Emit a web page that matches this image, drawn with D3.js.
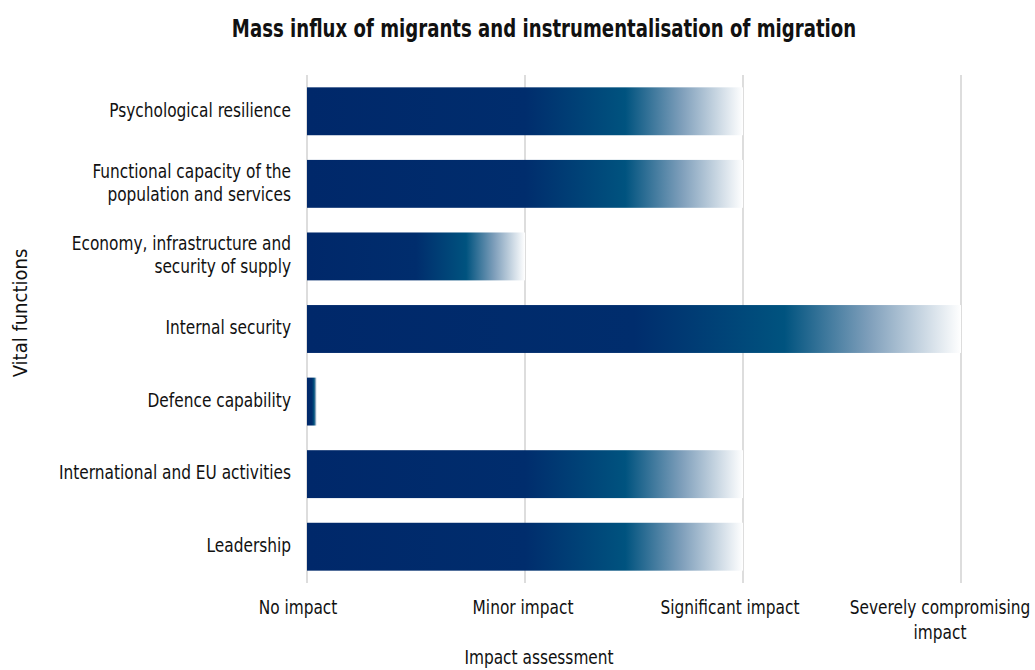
<!DOCTYPE html>
<html>
<head>
<meta charset="utf-8">
<script src="https://cdn.jsdelivr.net/npm/d3@7"></script>
<style>
  body { margin: 0; background: #fff; }
  text { font-family: "DejaVu Sans Condensed", "Liberation Sans Narrow", sans-serif; fill: #111; }
</style>
</head>
<body>
<script>
const W = 1035, H = 670;
const margin = {top: 75, right: 74, bottom: 87, left: 307};
const narrow = 0.9;   // squeeze text to look like a condensed face

// data
const categories = [
    ['Psychological resilience'],
    ['Functional capacity of the', 'population and services'],
    ['Economy, infrastructure and', 'security of supply'],
    ['Internal security'],
    ['Defence capability'],
    ['International and EU activities'],
    ['Leadership']
];
const impact = [2, 2, 1, 3, 0.045, 2, 2];
const tickLabels = [['No impact'], ['Minor impact'], ['Significant impact'], ['Severely compromising', 'impact']];
const tickShift = [-9, -2, -13, -21];

const svg = d3.select('body')
    .append('svg')
    .attr('width', W)
    .attr('height', H);

const x = d3.scaleLinear()
    .domain([0, 3])
    .range([margin.left, W - margin.right]);

const y = d3.scaleBand()
    .domain(d3.range(categories.length))
    .range([margin.top, H - margin.bottom])
    .paddingInner(0.34)
    .paddingOuter(0.17);

// gradient along each bar
const grad = svg.append('defs').append('linearGradient')
    .attr('id', 'barGrad')
    .attr('x1', '0%').attr('x2', '100%')
    .attr('y1', '0%').attr('y2', '0%');
[[0, '#00286a'], [0.5, '#002d6d'], [0.73, '#00537f'], [0.86, '#7f9fbb'], [1, '#ffffff']]
    .forEach(s => grad.append('stop').attr('offset', s[0]).attr('stop-color', s[1]));

// grid lines
svg.append('g')
    .selectAll('line')
    .data(x.ticks(3))
    .enter()
    .append('line')
    .attr('x1', d => x(d)).attr('x2', d => x(d))
    .attr('y1', margin.top).attr('y2', H - margin.bottom)
    .attr('stroke', '#dddddd')
    .attr('stroke-width', 2);

// bars
svg.append('g')
    .selectAll('rect')
    .data(impact)
    .enter()
    .append('rect')
    .attr('x', x(0))
    .attr('y', (d, i) => y(i))
    .attr('width', d => x(d) - x(0))
    .attr('height', y.bandwidth())
    .attr('fill', 'url(#barGrad)');

// multi-line text placed at (px,py), squeezed horizontally
function label(g, lines, px, py, anchor, size, lh, sx = narrow) {
    const t = g.append('text')
        .attr('transform', `translate(${px},${py}) scale(${sx},1)`)
        .attr('text-anchor', anchor)
        .attr('font-size', size);
    lines.forEach((l, j) => {
        t.append('tspan').attr('x', 0).attr('dy', j ? lh : 0).text(l);
    });
    return t;
}

// category labels
const catG = svg.append('g');
categories.forEach((d, i) => {
    const cy = y(i) + y.bandwidth() / 2 - (d.length - 1) * 11.5;
    label(catG, d, margin.left - 16, cy, 'end', 19, 23).attr('dominant-baseline', 'middle');
});

// x tick labels
const tickG = svg.append('g');
tickLabels.forEach((d, i) => {
    label(tickG, d, x(i) + tickShift[i], 614, 'middle', 19, 25);
});

// titles
const titleG = svg.append('g');
label(titleG, ['Mass influx of migrants and instrumentalisation of migration'], 544, 37, 'middle', 24, 0, 0.84)
    .attr('font-weight', 'bold');

label(titleG, ['Impact assessment'], 539, 664, 'middle', 19, 0);

titleG.append('text')
    .attr('transform', 'translate(27,313) rotate(-90)')
    .attr('text-anchor', 'middle')
    .attr('font-size', 20)
    .text('Vital functions');
</script>
</body>
</html>
